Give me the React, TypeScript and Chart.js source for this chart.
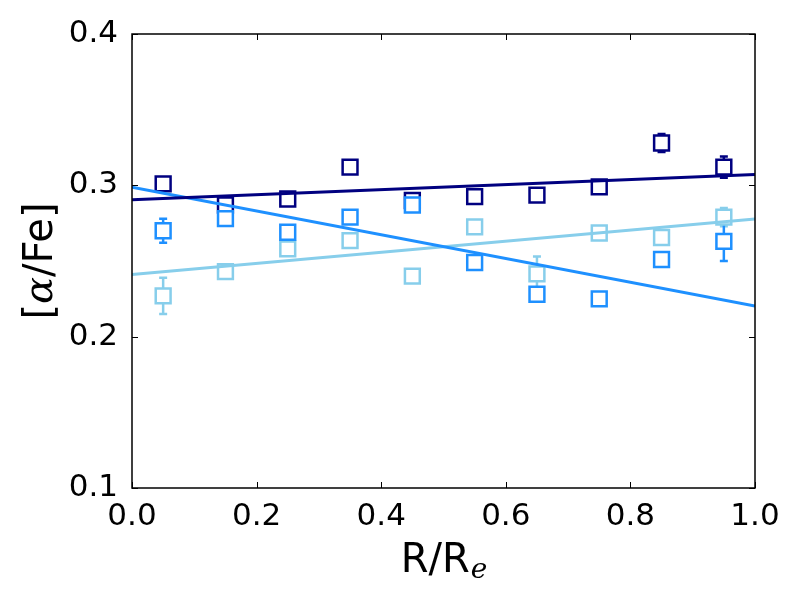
import { useEffect, useRef } from "react"
import { Chart, registerables, type ChartConfiguration, type Plugin } from "chart.js"

Chart.register(...registerables)

// bin centres in R/Re
const radii = [0.05, 0.15, 0.25, 0.35, 0.45, 0.55, 0.65, 0.75, 0.85, 0.95]

const navyVals = [0.301, 0.287, 0.291, 0.312, 0.29, 0.2925, 0.2935, 0.299, 0.328, 0.312]
const navyErr = [0.003, 0.003, 0.003, 0.003, 0.003, 0.003, 0.003, 0.003, 0.006, 0.007]

const blueVals = [0.27, 0.278, 0.269, 0.279, 0.287, 0.249, 0.228, 0.225, 0.251, 0.263]
const blueErr = [0.008, 0.003, 0.003, 0.003, 0.003, 0.003, 0.003, 0.003, 0.003, 0.013]

const lightVals = [0.227, 0.243, 0.258, 0.2635, 0.24, 0.2725, 0.2415, 0.2685, 0.2655, 0.279]
const lightErr = [0.012, 0.003, 0.004, 0.004, 0.004, 0.003, 0.0115, 0.003, 0.004, 0.006]

// linear fits, value at R/Re = 0 and 1
const fitX = [0, 1]
const navyFit = [0.2905, 0.3072]
const blueFit = [0.2988, 0.2202]
const lightFit = [0.241, 0.2777]

const xTicks = [0, 0.2, 0.4, 0.6, 0.8, 1.0]
const yTicks = [0.1, 0.2, 0.3, 0.4]

const NAVY = "#000080"
const BLUE = "#1E90FF"
const LIGHT = "#87CEEB"

const series = [
  { vals: lightVals, err: lightErr, color: LIGHT },
  { vals: navyVals, err: navyErr, color: NAVY },
  { vals: blueVals, err: blueErr, color: BLUE },
]

const errorBars: Plugin<"scatter"> = {
  id: "errorBars",
  beforeDatasetsDraw(chart) {
    const { ctx, chartArea, scales } = chart
    ctx.save()
    ctx.beginPath()
    ctx.rect(chartArea.left, chartArea.top, chartArea.right - chartArea.left, chartArea.bottom - chartArea.top)
    ctx.clip()
    ctx.lineWidth = 2.5
    series.forEach((s) => {
      ctx.strokeStyle = s.color
      s.vals.forEach((v, i) => {
        const px = scales.x.getPixelForValue(radii[i])
        const top = scales.y.getPixelForValue(v + s.err[i])
        const bot = scales.y.getPixelForValue(v - s.err[i])
        ctx.beginPath()
        ctx.moveTo(px, top)
        ctx.lineTo(px, bot)
        ctx.moveTo(px - 4, top)
        ctx.lineTo(px + 4, top)
        ctx.moveTo(px - 4, bot)
        ctx.lineTo(px + 4, bot)
        ctx.stroke()
      })
    })
    ctx.restore()
  },
}

const frame: Plugin<"scatter"> = {
  id: "frame",
  afterDraw(chart) {
    const { ctx, chartArea, scales } = chart
    const { left, right, top, bottom } = chartArea
    ctx.save()
    ctx.strokeStyle = "#000"
    ctx.lineWidth = 1
    ctx.beginPath()
    xTicks.forEach((t) => {
      const px = Math.round(scales.x.getPixelForValue(t)) + 0.5
      ctx.moveTo(px, bottom)
      ctx.lineTo(px, bottom - 6)
      ctx.moveTo(px, top)
      ctx.lineTo(px, top + 6)
    })
    yTicks.forEach((t) => {
      const py = Math.round(scales.y.getPixelForValue(t)) + 0.5
      ctx.moveTo(left, py)
      ctx.lineTo(left + 6, py)
      ctx.moveTo(right, py)
      ctx.lineTo(right - 6, py)
    })
    ctx.stroke()
    ctx.lineWidth = 1.5
    ctx.strokeRect(left, top, right - left, bottom - top)

    // axis labels with mathtext-like pieces
    ctx.fillStyle = "#000"
    ctx.textBaseline = "alphabetic"
    const sans = "40px 'DejaVu Sans'"
    const ital = "italic 28px 'DejaVu Serif'"
    ctx.font = sans
    const wR = ctx.measureText("R/R").width
    ctx.font = ital
    const wE = ctx.measureText("e").width
    const cx = (left + right) / 2
    const x0 = cx - (wR + wE) / 2
    ctx.font = sans
    ctx.fillText("R/R", x0, 572)
    ctx.font = ital
    ctx.fillText("e", x0 + wR + 1, 578)

    const alpha = "italic 40px 'DejaVu Serif'"
    const parts: [string, string][] = [
      ["[", sans],
      ["α", alpha],
      ["/Fe]", sans],
    ]
    let total = 0
    const widths = parts.map(([t, f]) => {
      ctx.font = f
      const w = ctx.measureText(t).width
      total += w
      return w
    })
    ctx.translate(52, (top + bottom) / 2)
    ctx.rotate(-Math.PI / 2)
    let x = -total / 2
    parts.forEach(([t, f], i) => {
      ctx.font = f
      ctx.fillText(t, x, 0)
      x += widths[i]
    })
    ctx.restore()
  },
}

export default function App() {
  const canvasRef = useRef<HTMLCanvasElement>(null)
  const chartRef = useRef<Chart | null>(null)

  useEffect(() => {
    if (!canvasRef.current) return
    if (chartRef.current) chartRef.current.destroy()
    const ctx = canvasRef.current.getContext("2d")
    if (!ctx) return

    const pointSet = (vals: number[], color: string) => ({
      type: "scatter" as const,
      data: vals.map((v, i) => ({ x: radii[i], y: v })),
      pointStyle: "rect" as const,
      pointRadius: 10.5,
      pointBorderWidth: 2.5,
      pointBorderColor: color,
      pointBackgroundColor: "#ffffff",
      showLine: false,
    })
    const fitSet = (vals: number[], color: string) => ({
      type: "scatter" as const,
      data: vals.map((v, i) => ({ x: fitX[i], y: v })),
      showLine: true,
      borderColor: color,
      borderWidth: 3,
      pointRadius: 0,
    })

    // first datasets are painted last (on top)
    const config: ChartConfiguration<"scatter"> = {
      type: "scatter",
      data: {
        datasets: [
          fitSet(navyFit, NAVY),
          fitSet(blueFit, BLUE),
          fitSet(lightFit, LIGHT),
          pointSet(blueVals, BLUE),
          pointSet(lightVals, LIGHT),
          pointSet(navyVals, NAVY),
        ],
      },
      options: {
        responsive: false,
        animation: false,
        layout: { padding: { top: 34, right: 45, left: 0, bottom: 0 } },
        plugins: { legend: { display: false }, tooltip: { enabled: false } },
        scales: {
          x: {
            type: "linear",
            min: 0,
            max: 1,
            afterFit: (s) => {
              s.height = 112
            },
            afterBuildTicks: (s) => {
              s.ticks = xTicks.map((v) => ({ value: v }))
            },
            grid: { display: false, drawTicks: false },
            border: { display: false },
            ticks: {
              padding: 10,
              color: "#000",
              font: { family: "'DejaVu Sans'", size: 31 },
              callback: (v) => Number(v).toFixed(1),
            },
          },
          y: {
            type: "linear",
            min: 0.1,
            max: 0.4,
            afterFit: (s) => {
              s.width = 132
            },
            afterBuildTicks: (s) => {
              s.ticks = yTicks.map((v) => ({ value: v }))
            },
            grid: { display: false, drawTicks: false },
            border: { display: false },
            ticks: {
              padding: 14,
              color: "#000",
              font: { family: "'DejaVu Sans'", size: 31 },
              callback: (v) => Number(v).toFixed(1),
            },
          },
        },
      },
      plugins: [errorBars, frame],
    }

    chartRef.current = new Chart(ctx, config)
    return () => {
      if (chartRef.current) chartRef.current.destroy()
    }
  }, [])

  return (
    <div style={{ position: "absolute", left: 0, top: 0, width: 800, height: 600, background: "#fff" }}>
      <canvas ref={canvasRef} width={800} height={600} />
    </div>
  )
}
